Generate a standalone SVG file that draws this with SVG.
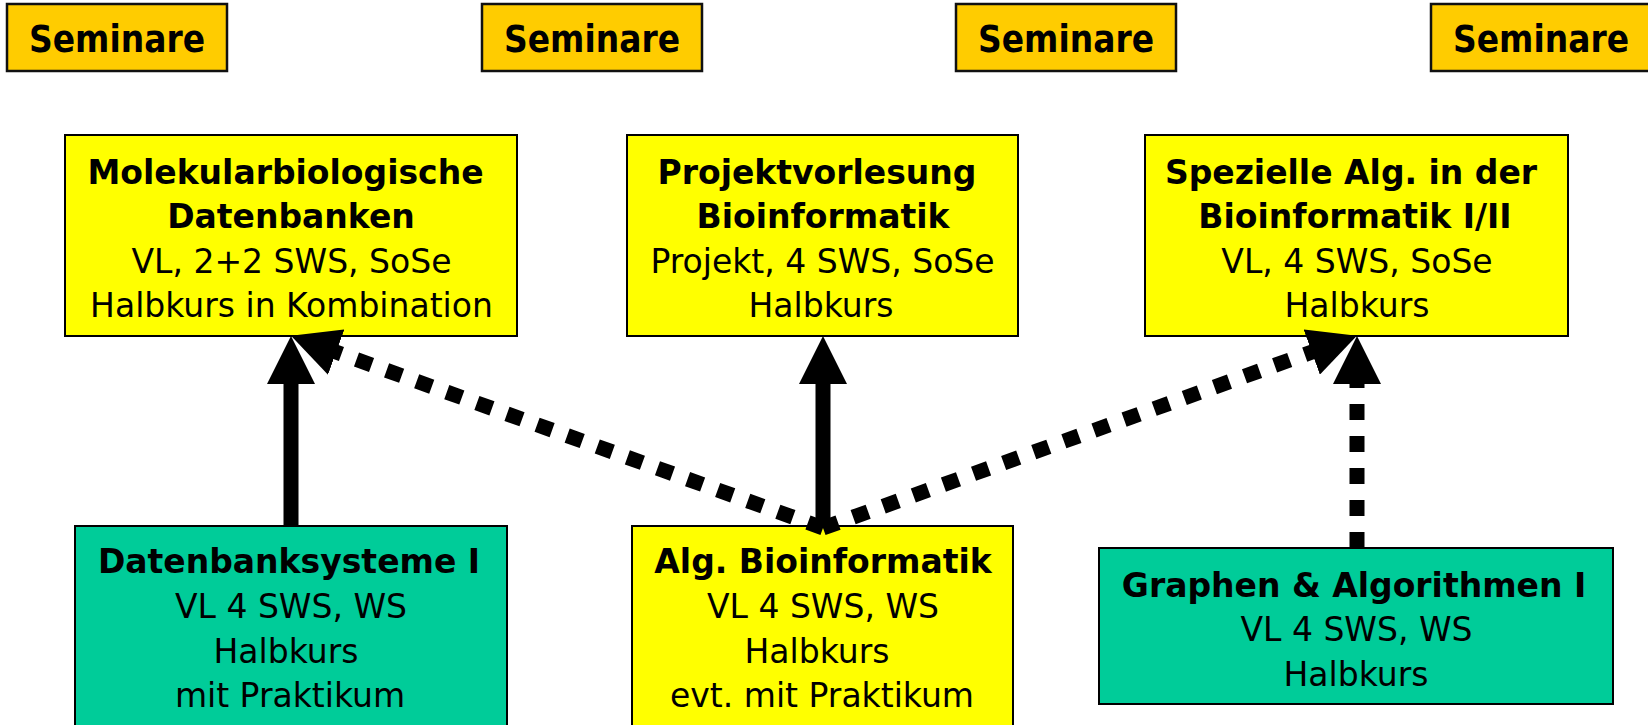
<svg xmlns="http://www.w3.org/2000/svg" width="1648" height="725" viewBox="0 0 1648 725">
<style>
text{font-family:"DejaVu Sans",Verdana,sans-serif;font-size:33px;fill:#000;text-anchor:middle}
.b{font-weight:bold}
.st{font-size:36.5px}
.sem{fill:#FFCC00;stroke:#111;stroke-width:2.5}
.yel{fill:#FFFF00;stroke:#000;stroke-width:2}
.grn{fill:#00CC99;stroke:#000;stroke-width:2}
.solid{fill:none;stroke:#000;stroke-width:15}
.dot{fill:none;stroke:#000;stroke-width:15;stroke-dasharray:16 16}
</style>
<defs>
<marker id="ah" markerUnits="userSpaceOnUse" markerWidth="48" markerHeight="48" viewBox="0 0 48 48" refX="4" refY="24" orient="auto">
<path d="M0,0 L48,24 L0,48 Z" fill="#000"/>
</marker>
</defs>
<rect width="1648" height="725" fill="#fff"/>
<g id="seminar1"><rect class="sem" x="7" y="4" width="220" height="67"/><text class="b st" x="117" y="52" textLength="176" lengthAdjust="spacingAndGlyphs">Seminare</text></g>
<g id="seminar2"><rect class="sem" x="482" y="4" width="220" height="67"/><text class="b st" x="592" y="52" textLength="176" lengthAdjust="spacingAndGlyphs">Seminare</text></g>
<g id="seminar3"><rect class="sem" x="956" y="4" width="220" height="67"/><text class="b st" x="1066" y="52" textLength="176" lengthAdjust="spacingAndGlyphs">Seminare</text></g>
<g id="seminar4"><rect class="sem" x="1431" y="4" width="220" height="67"/><text class="b st" x="1541" y="52" textLength="176" lengthAdjust="spacingAndGlyphs">Seminare</text></g>
<g id="molbio"><rect class="yel" x="65" y="135" width="452" height="201"/>
<text class="b" x="285.5" y="184">Molekularbiologische</text>
<text class="b" x="291" y="228">Datenbanken</text>
<text x="291.5" y="273">VL, 2+2 SWS, SoSe</text>
<text x="291.5" y="317">Halbkurs in Kombination</text></g>
<g id="projekt"><rect class="yel" x="627" y="135" width="391" height="201"/>
<text class="b" x="817" y="184">Projektvorlesung</text>
<text class="b" x="823" y="228">Bioinformatik</text>
<text x="822.5" y="273">Projekt, 4 SWS, SoSe</text>
<text x="821" y="317">Halbkurs</text></g>
<g id="spezielle"><rect class="yel" x="1145" y="135" width="423" height="201"/>
<text class="b" x="1351" y="184">Spezielle Alg. in der</text>
<text class="b" x="1355" y="228">Bioinformatik I/II</text>
<text x="1357" y="273">VL, 4 SWS, SoSe</text>
<text x="1357" y="317">Halbkurs</text></g>
<g id="dbs"><rect class="grn" x="75" y="526" width="432" height="210"/>
<text class="b" x="289" y="573">Datenbanksysteme I</text>
<text x="291" y="618">VL 4 SWS, WS</text>
<text x="286" y="663">Halbkurs</text>
<text x="290" y="707">mit Praktikum</text></g>
<g id="algbio"><rect class="yel" x="632" y="526" width="381" height="210"/>
<text class="b" x="823" y="573">Alg. Bioinformatik</text>
<text x="823" y="618">VL 4 SWS, WS</text>
<text x="817" y="663">Halbkurs</text>
<text x="822" y="707">evt. mit Praktikum</text></g>
<g id="graphen"><rect class="grn" x="1099" y="548" width="514" height="156"/>
<text class="b" x="1354" y="597">Graphen &amp; Algorithmen I</text>
<text x="1356.5" y="641">VL 4 SWS, WS</text>
<text x="1356" y="686">Halbkurs</text></g>
<g id="connectors">
<path class="solid" d="M291,526 V380" marker-end="url(#ah)"/>
<path class="solid" d="M823,526 V380" marker-end="url(#ah)"/>
<path class="dot" d="M823,528 L332.4,350.8" marker-end="url(#ah)"/>
<path class="dot" d="M823,528 L1315.5,350.7" marker-end="url(#ah)"/>
<path class="dot" d="M1357,548 V380" marker-end="url(#ah)"/>
</g>
</svg>
